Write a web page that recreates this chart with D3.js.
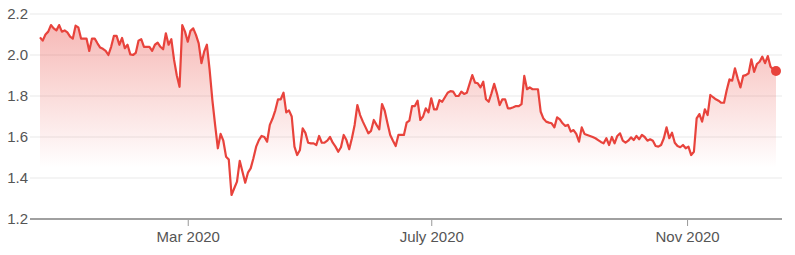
<!DOCTYPE html>
<html>
<head>
<meta charset="utf-8">
<script src="https://cdn.jsdelivr.net/npm/d3@7"></script>
<style>
  body { margin: 0; background: #fff; }
  text { font-family: "Liberation Sans", Arial, sans-serif; }
</style>
</head>
<body>
<div id="chart"></div>
<script>
// daily closing prices (one value per trading day)
const prices = [
  2.086, 2.07, 2.10, 2.114, 2.146, 2.13, 2.12, 2.146, 2.114, 2.12, 2.11, 2.09, 2.08, 2.143, 2.135, 2.08, 2.08, 2.08, 2.02, 2.08,
  2.08, 2.057, 2.036, 2.03, 2.02, 2.00, 2.04, 2.093, 2.093, 2.05, 2.083, 2.033, 2.05, 2.003, 2.00, 2.01, 2.07, 2.077, 2.04,
  2.04, 2.04, 2.02, 2.05, 2.06, 2.04, 2.028, 2.106, 2.05, 2.077, 1.976, 1.90, 1.845, 2.146, 2.114, 2.065, 2.118, 2.13, 2.098, 2.057,
  1.96, 2.016, 2.05, 1.927, 1.78, 1.659, 1.545, 1.615, 1.582, 1.504, 1.49, 1.317, 1.35, 1.382, 1.484, 1.43, 1.377, 1.426, 1.447,
  1.496, 1.553, 1.585, 1.605, 1.60, 1.577, 1.659, 1.69, 1.73, 1.784, 1.784, 1.816, 1.72, 1.73, 1.70, 1.553, 1.512, 1.537, 1.642, 1.62,
  1.572, 1.569, 1.569, 1.561, 1.605, 1.572, 1.572, 1.582, 1.60, 1.572, 1.553, 1.528, 1.55, 1.61, 1.585, 1.54, 1.594, 1.659, 1.756, 1.707,
  1.675, 1.647, 1.618, 1.63, 1.683, 1.659, 1.637, 1.761, 1.728, 1.667, 1.61, 1.582, 1.556, 1.61, 1.61, 1.61, 1.67, 1.68, 1.751, 1.751,
  1.777, 1.683, 1.70, 1.74, 1.72, 1.789, 1.735, 1.735, 1.78, 1.772, 1.794, 1.816, 1.824, 1.821, 1.80, 1.80, 1.821, 1.81, 1.816, 1.859,
  1.902, 1.865, 1.862, 1.842, 1.87, 1.784, 1.772, 1.813, 1.859, 1.813, 1.756, 1.784, 1.784, 1.74, 1.74, 1.745, 1.751, 1.751, 1.76, 1.898,
  1.833, 1.842, 1.833, 1.833, 1.833, 1.723, 1.69, 1.675, 1.67, 1.667, 1.647, 1.696, 1.686, 1.667, 1.654, 1.659, 1.626, 1.634, 1.615, 1.577,
  1.647, 1.615, 1.61, 1.605, 1.60, 1.594, 1.585, 1.576, 1.569, 1.594, 1.561, 1.60, 1.569, 1.605, 1.618, 1.582, 1.572, 1.582, 1.598, 1.585,
  1.605, 1.589, 1.61, 1.60, 1.582, 1.589, 1.582, 1.556, 1.553, 1.561, 1.594, 1.647, 1.594, 1.621, 1.572, 1.556, 1.55, 1.561, 1.545, 1.553,
  1.512, 1.528, 1.691, 1.712, 1.675, 1.735, 1.707, 1.805, 1.794, 1.784, 1.777, 1.767, 1.767, 1.829, 1.881, 1.875, 1.935, 1.886, 1.842, 1.898,
  1.902, 1.911, 1.979, 1.918, 1.956, 1.967, 1.992, 1.96, 1.995, 1.943, 1.93, 1.922
];

const yTicks = [1.2, 1.4, 1.6, 1.8, 2.0, 2.2];
// positions of the month starts, in trading-day index
const xTickIndex = [54, 143, 236.5];
const xTickLabels = ["Mar 2020", "July 2020", "Nov 2020"];

const width = 795;
const height = 255;
const plotLeft = 30, plotRight = 782;

const x = d3.scaleLinear()
  .domain([0, prices.length - 1])
  .range([40, 776]);

const y = d3.scaleLinear()
  .domain([1.2, 2.2])
  .range([219, 14]);

const svg = d3.select("#chart")
  .append("svg")
  .attr("width", width)
  .attr("height", height);

// gradient for the area under the line
const grad = svg.append("defs")
  .append("linearGradient")
  .attr("id", "fade")
  .attr("gradientUnits", "userSpaceOnUse")
  .attr("x1", 0).attr("x2", 0)
  .attr("y1", y(2.2)).attr("y2", y(1.2));
grad.append("stop").attr("offset", 0).attr("stop-color", "#e8433c").attr("stop-opacity", 0.4);
grad.append("stop").attr("offset", 0.75).attr("stop-color", "#e8433c").attr("stop-opacity", 0);

// horizontal grid lines
svg.append("g")
  .selectAll("line")
  .data(yTicks.slice(1))
  .join("line")
  .attr("x1", plotLeft)
  .attr("x2", plotRight)
  .attr("y1", d => y(d))
  .attr("y2", d => y(d))
  .attr("stroke", "#f0f0f0")
  .attr("stroke-width", 1.5);

// y labels
const yAxis = svg.append("g")
  .attr("transform", `translate(${plotLeft},0)`)
  .call(d3.axisLeft(y).tickValues(yTicks).tickFormat(d3.format(".1f")).tickSize(0).tickPadding(2));
yAxis.select(".domain").remove();
yAxis.selectAll("text")
  .style("font-size", "15px")
  .attr("fill", "#555");

// area + line
const area = d3.area()
  .x((d, i) => x(i))
  .y0(y(1.2))
  .y1(d => y(d));

const line = d3.line()
  .x((d, i) => x(i))
  .y(d => y(d));

svg.append("path")
  .datum(prices)
  .attr("d", area)
  .attr("fill", "url(#fade)");

svg.append("path")
  .datum(prices)
  .attr("d", line)
  .attr("fill", "none")
  .attr("stroke", "#e8433c")
  .attr("stroke-width", 2.2)
  .attr("stroke-linejoin", "round");

// x axis
const xAxis = svg.append("g")
  .attr("transform", `translate(0,${y(1.2)})`)
  .call(d3.axisBottom(x)
    .tickValues(xTickIndex)
    .tickFormat((d, i) => xTickLabels[i])
    .tickSize(7)
    .tickPadding(5));
xAxis.select(".domain").remove();
xAxis.selectAll(".tick line").attr("stroke", "#999");
xAxis.selectAll("text")
  .style("font-size", "15px")
  .attr("fill", "#555");

svg.append("line")
  .attr("x1", plotLeft)
  .attr("x2", plotRight)
  .attr("y1", y(1.2))
  .attr("y2", y(1.2))
  .attr("stroke", "#a0a0a0")
  .attr("stroke-width", 2);

// last price marker
const last = prices.length - 1;
svg.append("circle")
  .attr("cx", x(last))
  .attr("cy", y(prices[last]))
  .attr("r", 5)
  .attr("fill", "#e8433c");
</script>
</body>
</html>
